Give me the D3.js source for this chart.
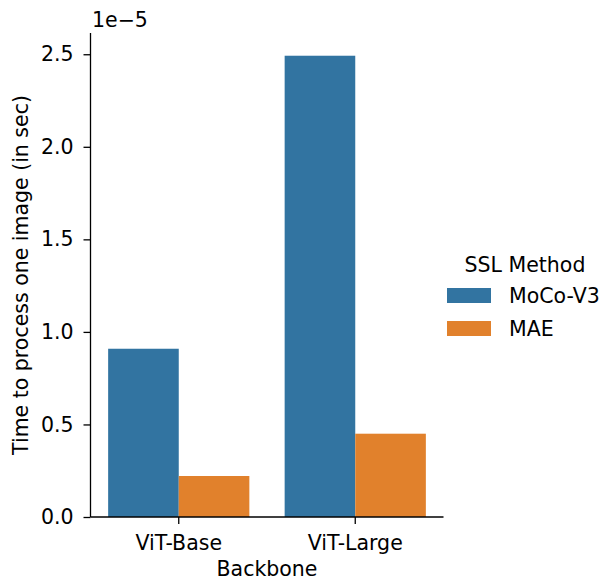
<!DOCTYPE html>
<html><head><meta charset="utf-8">
<script src="https://cdn.jsdelivr.net/npm/d3@7"></script>
<style>body{margin:0;background:#fff}svg{display:block}text{font-family:"DejaVu Sans",sans-serif;fill:#000}</style>
</head><body>
<svg id="c" width="605" height="581"></svg>
<script>
const categories = ["ViT-Base", "ViT-Large"];
const methods = ["MoCo-V3", "MAE"];
const mocoValues = [0.909, 2.492];
const maeValues = [0.2215, 0.450];
const yTicks = [0, 0.5, 1.0, 1.5, 2.0, 2.5];
const colors = ["#3274a1", "#e1812c"];

const svg = d3.select("#c");
const mL = 90.5, mR = 443.5, mT = 33, mB = 517;
const fs = 20.5;

const x = d3.scaleBand().domain(categories).range([mL, mR]).paddingInner(0).paddingOuter(0);
const xm = d3.scaleBand().domain(methods).range([0, x.bandwidth()]).paddingInner(0).paddingOuter(0.25);
const y = d3.scaleLinear().domain([0, (mB - mT) / 185.1]).range([mB, mT]);

const series = [mocoValues, maeValues];
series.forEach((vals, si) => {
  svg.append("g").selectAll("rect").data(categories).join("rect")
    .attr("x", d => x(d) + xm(methods[si]))
    .attr("width", xm.bandwidth())
    .attr("y", (d, i) => y(vals[i]))
    .attr("height", (d, i) => y(0) - y(vals[i]))
    .attr("fill", colors[si]);
});

const yAxis = d3.axisLeft(y).tickValues(yTicks).tickFormat(d3.format(".1f")).tickSize(7).tickPadding(10);
const gy = svg.append("g").attr("transform", `translate(${mL},0)`).call(yAxis);
const xAxis = d3.axisBottom(x).tickSize(7).tickPadding(11.5);
const gx = svg.append("g").attr("transform", `translate(0,${mB})`).call(xAxis);
[gy, gx].forEach(g => {
  g.selectAll("text").style("font-size", fs + "px").style("font-family", '"DejaVu Sans",sans-serif').attr("fill", "#000");
  g.selectAll("line").attr("stroke", "#000").attr("stroke-width", 1.3);
  g.select(".domain").attr("stroke", "#000").attr("stroke-width", 1.3);
});
gy.select(".domain").attr("d", `M0,${mT}V${mB}`);
gx.select(".domain").attr("d", `M${mL},0H${mR}`);

svg.append("text").attr("x", 92).attr("y", 27).style("font-size", fs + "px").text("1e\u22125");

svg.append("text").attr("transform", `translate(28,${(mT + mB) / 2}) rotate(-90)`)
  .attr("text-anchor", "middle").style("font-size", fs + "px").text("Time to process one image (in sec)");
svg.append("text").attr("x", (mL + mR) / 2).attr("y", 575.5).attr("text-anchor", "middle")
  .style("font-size", fs + "px").text("Backbone");

// legend
const lg = svg.append("g");
lg.append("text").attr("x", 525).attr("y", 272).attr("text-anchor", "middle").style("font-size", fs + "px").text("SSL Method");
methods.forEach((m, i) => {
  lg.append("rect").attr("x", 447).attr("y", 288 + i * 33).attr("width", 44).attr("height", 15).attr("fill", colors[i]);
  lg.append("text").attr("x", 509).attr("y", 303 + i * 33).style("font-size", fs + "px").text(m);
});
</script>
</body></html>
